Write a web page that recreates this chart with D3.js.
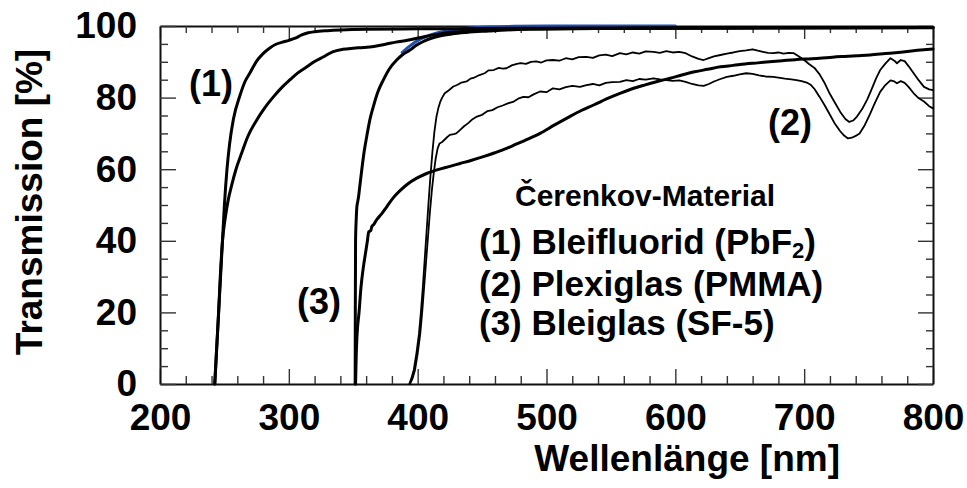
<!DOCTYPE html>
<html>
<head>
<meta charset="utf-8">
<script src="https://cdn.jsdelivr.net/npm/d3@7"></script>
<style>
  html, body { margin: 0; padding: 0; background: #fff; }
  svg text { font-family: "Liberation Sans", Arial, Helvetica, sans-serif; font-weight: bold; fill: #000; }
</style>
</head>
<body>
<svg id="chart" width="967" height="488"></svg>
<script>
// Axis ticks
const xMajorTicks = [200, 300, 400, 500, 600, 700, 800];
const yMajorTicks = [0, 20, 40, 60, 80, 100];

// Transmission curves: [wavelength in nm, transmission in %]
// (1) Bleifluorid PbF2, two samples
const pbf2A = [[242.5,0],[244,10],[245.5,20],[247,30],[248.5,40],[250,50],[252,60],[254,67],[257,74],[262,80.5],[266,84.5],[270,87],[275,90.2],[280,92.3],[285,93.8],[290,94.9],[295,95.5],[300,96],[305,96.6],[310,97.5],[315,98.1],[320,98.4],[330,98.7],[340,98.9],[360,99.1],[400,99.2],[450,99.3],[500,99.4],[650,99.5],[800,99.6]];
const pbf2B = [[242.5,0],[244,10],[245.5,20],[246.8,30],[248.5,40],[250.5,46],[253,51.5],[255.6,55.5],[259,60],[263.4,64.5],[268,69],[275,73.7],[281,77],[288,80.2],[295,83],[301,85],[307,86.9],[314,88.6],[320,90.1],[327,91.4],[334,92.8],[342,93.5],[350,93.8],[358,94],[366,94.3],[375,94.9],[383,95.5],[392,96],[405,97],[417,97.8],[428,98.3],[440,98.6],[455,98.9],[470,99.1],[495,99.3],[540,99.4],[600,99.5],[800,99.6]];

// (2) Plexiglas PMMA, two samples
const pmmaA = [[393.5,0],[395,1.5],[397,4],[399,8.5],[401,14],[402.5,20],[404,27],[405.5,35],[407,43],[408.5,51],[410,58.5],[411.5,65],[413,70.5],[414.5,74.5],[416,77],[417.5,78.8],[419,80],[421,81.2],[424,82],[427.7,83.1],[431,83.6],[434,84.2],[438,84.5],[441,85.3],[444,85.6],[448,86.3],[452,86.8],[455,87.6],[459,87.7],[463,88.3],[466,88.1],[469,88.2],[473,89],[477,89.4],[480,89.6],[484,89.4],[488,90],[492,90.1],[496,89.8],[500,90.4],[505,90.5],[510,90.3],[515,91],[520,90.7],[525,91.3],[531,91.4],[536,91.1],[541,91.8],[546,92],[551,91.6],[557,92.4],[562,92.1],[567,92.6],[572,92.3],[577,92.9],[583,92.8],[588,92.5],[593,93],[598,92.6],[603,92.8],[608,92.4],[613,91.5],[618,90.8],[622,90.5],[626,91],[630,91.5],[635,91.9],[640,92.3],[645,92.6],[650,93],[655,93.2],[660,93.5],[664,93.1],[668,92.8],[672,92.5],[676,92.4],[680,92.6],[684,92.3],[688,92.5],[692,92.4],[696,91.5],[700,90.5],[704,89.3],[708,88.3],[712,86.5],[716,84],[720,81],[724,78.5],[728,76],[732,74],[735,73.2],[738,73.6],[741,74.7],[745,76.8],[749,79.5],[752,82],[756,85.5],[759,87.7],[763,89.5],[767,91],[770,90.3],[772,89.6],[775,90.5],[778,90.2],[781,88.8],[785,86.8],[789,84.8],[793,83],[797,82.3],[800,82.1]];
const pmmaB = [[394,0],[396,1.5],[398,4],[400,8.5],[402,14],[403.5,20],[405,27],[406.5,34],[408,41],[409.5,48],[411,54],[412.5,59],[414,63],[415.5,65.8],[417,67.2],[419,67.6],[421,68.3],[423,69],[425,69.6],[428,69.8],[430,70],[433,71],[436,72],[439,72.8],[442,73.8],[446,74.7],[450,75.2],[454,76.2],[458,76.5],[462,77.3],[466,77.8],[470,78.4],[474,78.8],[478,79.7],[482,80.2],[486,80.1],[490,80.9],[495,81.7],[500,81.5],[505,82.6],[510,82.3],[515,82.9],[520,83.3],[526,83],[531,83.5],[536,83.8],[541,83.4],[546,84.1],[551,84.3],[557,84.4],[562,84.9],[567,84.6],[572,85.2],[577,85],[583,85.4],[588,85.1],[593,84.9],[598,84.7],[603,84.8],[608,84.4],[613,83.8],[618,83.4],[622,83.3],[626,83.8],[630,84.5],[635,85.2],[640,85.8],[645,86.1],[650,86.5],[655,86.8],[660,86.6],[665,86.2],[670,85.9],[676,85.8],[680,85.6],[685,85.3],[690,85.1],[694,84.9],[698,84.6],[702,84.2],[705,83.6],[708,82.4],[712,80.2],[716,77.8],[720,75.2],[724,72.6],[728,70.6],[731,69.4],[734,68.6],[737,68.8],[740,69.3],[743,70],[747,72.3],[751,75.3],[755,78.6],[759,81.6],[763,83.5],[767,84.8],[770,84.5],[772,84],[775,84.6],[778,84.1],[781,83],[785,81.2],[789,79.8],[793,78.9],[797,77.6],[800,77]];

// (3) Bleiglas SF-5, two samples plus a reference trace
const sf5A = [[351.5,0],[351.6,20],[351.8,40],[352.3,46],[352.8,49.5],[353.5,51],[354.2,52.5],[355,55],[356.6,59.8],[358.5,65],[360.4,69],[363,74],[365.6,77.5],[369,81.5],[373.3,84.9],[378,88],[383.7,90.5],[388,91.9],[394,93.3],[399,94.6],[404,95.6],[410,96.5],[417,97.2],[427,97.8],[438,98.2],[455,98.6],[469,98.9],[495,99.1],[550,99.3],[650,99.4],[800,99.5]];
const sf5B = [[351.8,0],[352.3,8],[353,14],[354.5,20],[356,27],[357.8,32.5],[359.5,36.5],[361,40],[362,42.5],[363.5,42.8],[364.5,44],[366,44.6],[368,45.8],[372,47.5],[376,49.5],[381,52],[386.3,54],[392,55.8],[399.3,57.5],[407,58.8],[415,59.8],[425,60.8],[433,61.6],[442,62.5],[451,63.5],[460,64.6],[469,65.8],[476,66.9],[483,68],[495,70],[506,72.3],[518,74.7],[527,76.4],[537,78],[547,79.7],[557,81.2],[566,82.4],[576,83.5],[586,84.5],[596,85.4],[605,86.3],[615,87.2],[625,87.9],[635,88.6],[645,89],[654,89.4],[664,89.7],[673,90],[683,90.3],[693,90.6],[702,90.8],[712,91],[722,91.3],[731,91.5],[741,91.7],[751,91.9],[763,92.3],[775,92.7],[788,93.2],[800,93.6]];
const sf5Reference = [[388,92.6],[392,93.9],[396,95],[400,95.9],[405,96.8],[410,97.5],[417,98.3],[427,98.9],[438,99.4],[455,99.7],[475,99.9],[500,100],[540,100],[600,100]];

const svg = d3.select("#chart");
const x = d3.scaleLinear().domain([200, 800]).range([160, 933]);
const y = d3.scaleLinear().domain([0, 100]).range([384, 26]);

const xMinorTicks = d3.range(200, 801, 20).filter(v => v % 100 !== 0);
const yMinorTicks = d3.range(0, 101, 5).filter(v => v % 20 !== 0);

function styleAxis(g, width) {
  g.selectAll(".domain").attr("stroke", "#111").attr("stroke-width", width);
  g.selectAll(".tick line").attr("stroke", "#333").attr("stroke-width", 1.4);
  g.selectAll("text").attr("font-size", 37).attr("fill", "#000");
}

// Frame with inward ticks on all four sides
const bottomMajor = svg.append("g").attr("transform", `translate(0,${y(0)})`)
  .call(d3.axisBottom(x).tickValues(xMajorTicks).tickSize(-15).tickSizeOuter(0).tickPadding(20).tickFormat(d3.format("d")));
styleAxis(bottomMajor, 2);
const bottomMinor = svg.append("g").attr("transform", `translate(0,${y(0)})`)
  .call(d3.axisBottom(x).tickValues(xMinorTicks).tickSize(-8).tickFormat(""));
bottomMinor.select(".domain").remove(); styleAxis(bottomMinor, 2);

const topMajor = svg.append("g").attr("transform", `translate(0,${y(100)})`)
  .call(d3.axisTop(x).tickValues(xMajorTicks).tickSize(-13).tickSizeOuter(0).tickFormat(""));
styleAxis(topMajor, 2);
const topMinor = svg.append("g").attr("transform", `translate(0,${y(100)})`)
  .call(d3.axisTop(x).tickValues(xMinorTicks).tickSize(-7).tickFormat(""));
topMinor.select(".domain").remove(); styleAxis(topMinor, 2);

const leftMajor = svg.append("g").attr("transform", `translate(${x(200)},0)`)
  .call(d3.axisLeft(y).tickValues(yMajorTicks).tickSize(-16).tickSizeOuter(0).tickPadding(23).tickFormat(d3.format("d")));
styleAxis(leftMajor, 2);
const leftMinor = svg.append("g").attr("transform", `translate(${x(200)},0)`)
  .call(d3.axisLeft(y).tickValues(yMinorTicks).tickSize(-8).tickFormat(""));
leftMinor.select(".domain").remove(); styleAxis(leftMinor, 2);

const rightMajor = svg.append("g").attr("transform", `translate(${x(800)},0)`)
  .call(d3.axisRight(y).tickValues(yMajorTicks).tickSize(-15).tickSizeOuter(0).tickFormat(""));
styleAxis(rightMajor, 2);
const rightMinor = svg.append("g").attr("transform", `translate(${x(800)},0)`)
  .call(d3.axisRight(y).tickValues(yMinorTicks).tickSize(-7).tickFormat(""));
rightMinor.select(".domain").remove(); styleAxis(rightMinor, 2);

// Curves
const smooth = d3.line().x(d => x(d[0])).y(d => y(d[1])).curve(d3.curveMonotoneX);
const raw = d3.line().x(d => x(d[0])).y(d => y(d[1]));

const curves = svg.append("g").attr("fill", "none").attr("stroke-linejoin", "round").attr("stroke-linecap", "round");
curves.append("path").attr("d", smooth(sf5Reference)).attr("stroke", "#1d4fb0").attr("stroke-width", 3);
curves.append("path").attr("d", raw(pmmaA)).attr("stroke", "#000").attr("stroke-width", 1.8);
curves.append("path").attr("d", raw(pmmaB)).attr("stroke", "#000").attr("stroke-width", 1.8);
curves.append("path").attr("d", smooth(sf5B)).attr("stroke", "#000").attr("stroke-width", 3);
curves.append("path").attr("d", smooth(sf5A)).attr("stroke", "#000").attr("stroke-width", 3);
curves.append("path").attr("d", smooth(pbf2B)).attr("stroke", "#000").attr("stroke-width", 3);
curves.append("path").attr("d", smooth(pbf2A)).attr("stroke", "#000").attr("stroke-width", 3);

// Axis titles
svg.append("text").attr("x", 840).attr("y", 471).attr("text-anchor", "end")
  .attr("font-size", 37).text("Wellenlänge [nm]");
svg.append("text").attr("transform", "translate(42,202) rotate(-90)").attr("text-anchor", "middle")
  .attr("font-size", 37).text("Transmission [%]");

// Curve markers
svg.append("text").attr("x", 189).attr("y", 96).attr("font-size", 36).text("(1)");
svg.append("text").attr("x", 768).attr("y", 135).attr("font-size", 36).text("(2)");
svg.append("text").attr("x", 297).attr("y", 314).attr("font-size", 36).text("(3)");

// Legend
svg.append("text").attr("x", 515).attr("y", 206).attr("font-size", 30).text("Čerenkov-Material");
const l1 = svg.append("text").attr("x", 479).attr("y", 254).attr("font-size", 35);
l1.append("tspan").text("(1) Bleifluorid (PbF");
l1.append("tspan").attr("font-size", 22).attr("dy", 4).text("2");
l1.append("tspan").attr("dy", -4).text(")");
svg.append("text").attr("x", 479).attr("y", 295.5).attr("font-size", 35).text("(2) Plexiglas (PMMA)");
svg.append("text").attr("x", 479).attr("y", 335).attr("font-size", 35).text("(3) Bleiglas (SF-5)");
</script>
</body>
</html>
